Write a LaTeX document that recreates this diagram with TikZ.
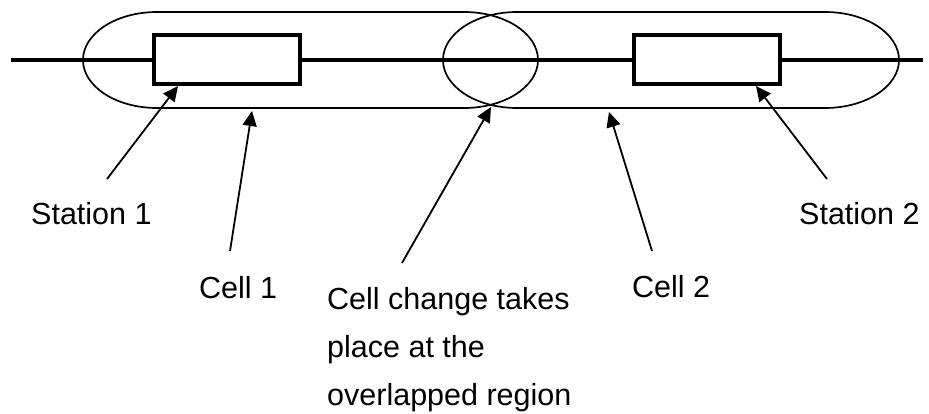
\documentclass[tikz,border=0pt]{standalone}
\usepackage{fontspec}
\setmainfont{Liberation Sans}
\usetikzlibrary{arrows.meta}
\begin{document}
\begin{tikzpicture}[x=1pt,y=-1pt,
  wire/.style={line width=3.3pt},
  stationbox/.style={draw,line width=3.6pt,fill=white,minimum width=146pt,minimum height=49pt,inner sep=0pt,outer sep=0pt},
  cellshape/.style={line width=1.7pt},
  pointer/.style={line width=1.8pt,-{Triangle[length=15pt,width=14pt]}},
  lbl/.style={inner sep=0pt,font=\fontsize{30.5}{48}\selectfont}]
\useasboundingbox (0,0) rectangle (929,414);
% main line
\coordinate (wl) at (11,60);
\coordinate (wr) at (923,60);
\draw[wire] (wl) -- (wr);
% cells (stadium shapes)
\draw[cellshape] (157,12) -- (464,12) arc[start angle=90,end angle=-90,x radius=74,y radius=-48] -- (157,108) arc[start angle=-90,end angle=-270,x radius=74,y radius=-48] -- cycle;
\draw[cellshape] (517,12) -- (825,12) arc[start angle=90,end angle=-90,x radius=74,y radius=-48] -- (517,108) arc[start angle=-90,end angle=-270,x radius=74,y radius=-48] -- cycle;
% stations
\node[stationbox] (st1) at (227,59.5) {};
\node[stationbox] (st2) at (707,59.5) {};
% labels
\node[lbl,anchor=base west] (ls1) at (31,225) {Station 1};
\node[lbl,anchor=base west] (ls2) at (799,225) {Station 2};
\node[lbl,anchor=base west] (lc1) at (199,298) {Cell 1};
\node[lbl,anchor=base west] (lc2) at (632,297) {Cell 2};
\node[lbl,anchor=base west,align=left] (lov) at (327,405) {Cell change takes\\place at the\\overlapped region};
% arrow ends
\coordinate (t1) at (107,179);
\coordinate (h1) at (178,86);
\coordinate (t2) at (230,251);
\coordinate (h2) at (252,111);
\coordinate (t3) at (402,263);
\coordinate (h3) at (491,107);
\coordinate (t4) at (652,251);
\coordinate (h4) at (609,112);
\coordinate (t5) at (827,179);
\coordinate (h5) at (756,86);
\draw[pointer] (t1) -- (h1);
\draw[pointer] (t2) -- (h2);
\draw[pointer] (t3) -- (h3);
\draw[pointer] (t4) -- (h4);
\draw[pointer] (t5) -- (h5);
\end{tikzpicture}
\end{document}
